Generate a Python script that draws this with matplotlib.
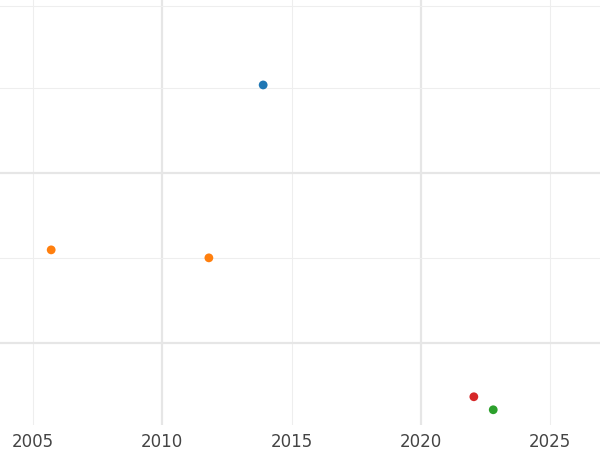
import matplotlib
matplotlib.use("Agg")
import matplotlib.pyplot as plt

# point data
years = [2013.9, 2005.7, 2011.8, 2022.05, 2022.8]
values = [3.035, 1.094, 1.0, -0.635, -0.788]
colors = ['#1f77b4', '#ff7f0e', '#ff7f0e', '#d62728', '#2ca02c']

fig = plt.figure(figsize=(6, 4.5), dpi=100)
ax = fig.add_axes([0, 0.056, 1, 0.944])

ax.scatter(years, values, c=colors, s=40, zorder=3, edgecolors='none')

ax.set_xlim(2003.72, 2026.93)
ax.set_ylim(-0.965, 4.035)

# major grid lines every 10 years, minor at the 5-year marks in between
ax.set_xticks([2005, 2010, 2015, 2020, 2025])
for x in [2010, 2020]:
    ax.axvline(x, color='#e6e6e6', lw=1.6, zorder=0)
for x in [2005, 2015, 2025]:
    ax.axvline(x, color='#eeeeee', lw=0.8, zorder=0)
for y in [0, 2]:
    ax.axhline(y, color='#e6e6e6', lw=1.6, zorder=0)
for y in [-1, 1, 3, 3.97]:
    ax.axhline(y, color='#eeeeee', lw=0.8, zorder=0)

ax.set_yticks([])
ax.minorticks_off()
ax.tick_params(axis='x', length=0, labelsize=12, labelcolor='#444444', pad=6)
for s in ax.spines.values():
    s.set_visible(False)

fig.savefig('out.png', dpi=100)
